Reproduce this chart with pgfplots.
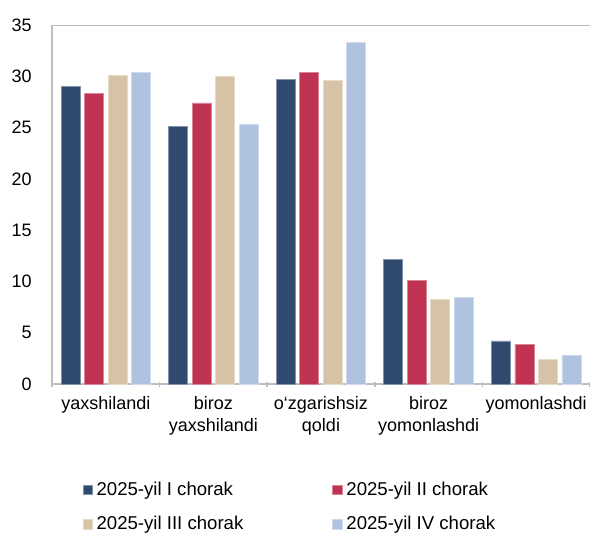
\documentclass[border=0pt]{standalone}
\usepackage{fontspec}
\setmainfont{Liberation Sans}
\usepackage{pgfplots}
\pgfplotsset{compat=1.18}

\definecolor{qone}{RGB}{47,74,110}
\definecolor{qtwo}{RGB}{192,51,82}
\definecolor{qthree}{RGB}{214,195,165}
\definecolor{qfour}{RGB}{175,195,224}
\definecolor{axgray}{RGB}{190,190,190}

\begin{document}
\fontsize{9pt}{11pt}\selectfont
\begin{tikzpicture}
\useasboundingbox (0,0) rectangle (295pt,-266pt);
\begin{axis}[
  at={(26pt,-12.5pt)}, anchor=north west,
  scale only axis, width=269pt, height=179.5pt,
  ybar=2.25pt, bar width=9.5pt,
  xmin=-0.5, xmax=4.5, ymin=0, ymax=35,
  ytick={0,5,...,35},
  xtick={0,...,4},
  xticklabels={yaxshilandi, {biroz\\yaxshilandi}, {o‘zgarishsiz\\qoldi}, {biroz\\yomonlashdi}, yomonlashdi},
  xticklabel style={align=center, yshift=-3pt},
  yticklabel style={xshift=-7pt},
  /pgf/number format/assume math mode=true,
  major tick length=0pt,
  minor xtick={-0.5,0.5,...,4.5},
  minor tick length=2.5pt,
  tick align=outside,
  tick style={axgray, line width=0.8pt},
  axis lines=left,
  axis line style={-, axgray, line width=0.8pt},
  legend columns=2,
  legend style={draw=none, fill=none, at={(rel axis cs:0.045,-0.25)}, anchor=north west,
    font=\fontsize{9.3pt}{11pt}\selectfont, cells={anchor=west},
    /tikz/every even column/.append style={column sep=42.5pt}, row sep=5pt},
  legend image code/.code={\fill[#1] (0pt,-2.3pt) rectangle (4.6pt,2.3pt);},
]
\addplot[fill=qone, draw=qone!60!white, line width=0.4pt] coordinates {(0,29.0)(1,25.1)(2,29.7)(3,12.1)(4,4.2)};
\addplot[fill=qtwo, draw=qtwo!60!white, line width=0.4pt] coordinates {(0,28.3)(1,27.4)(2,30.4)(3,10.1)(4,3.9)};
\addplot[fill=qthree, draw=qthree!60!white, line width=0.4pt] coordinates {(0,30.1)(1,30.0)(2,29.6)(3,8.2)(4,2.4)};
\addplot[fill=qfour, draw=qfour!60!white, line width=0.4pt] coordinates {(0,30.4)(1,25.3)(2,33.3)(3,8.4)(4,2.8)};
\legend{2025-yil I chorak, 2025-yil II chorak, 2025-yil III chorak, 2025-yil IV chorak}
\draw[axgray, line width=0.8pt] (rel axis cs:0,1) -- (rel axis cs:1,1);
\end{axis}
\end{tikzpicture}
\end{document}
